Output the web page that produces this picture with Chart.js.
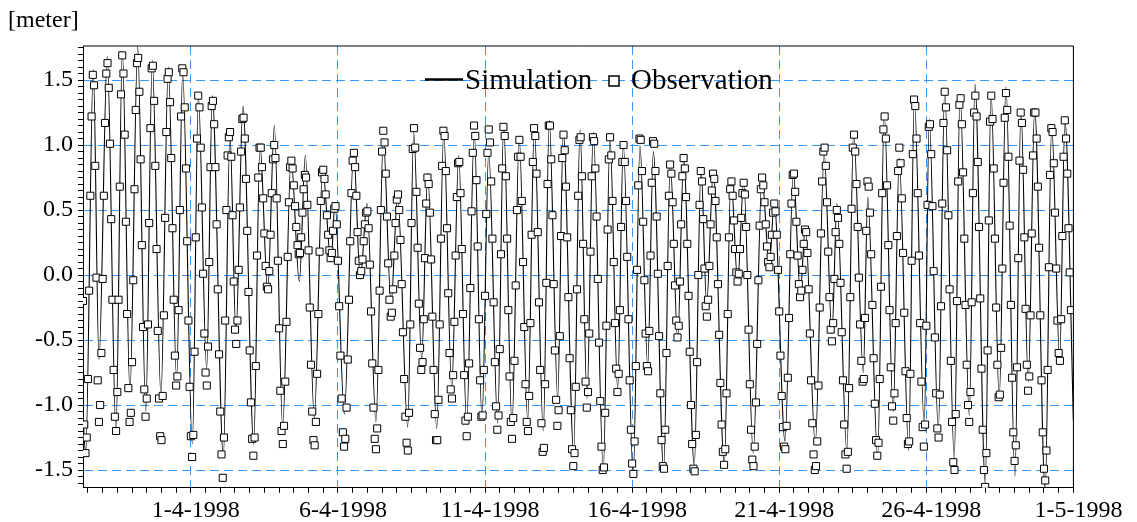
<!DOCTYPE html>
<html>
<head>
<meta charset="utf-8">
<script src="https://cdn.jsdelivr.net/npm/chart.js@4/dist/chart.umd.min.js"></script>
<style>
  html, body { margin: 0; padding: 0; background: #fff; }
  #wrap { width: 1137px; height: 522px; }
</style>
</head>
<body>
<div id="wrap"><canvas id="tideChart" width="1137" height="522"></canvas></div>
<script>
// time axis in hours, counted from 28-3-1998 08:00
const dateHours = [88, 208, 328, 448, 568, 688, 808];
const dateLabels = ['1-4-1998', '6-4-1998', '11-4-1998', '16-4-1998', '21-4-1998', '26-4-1998', '1-5-1998'];
const yMajor = [-1.5, -1.0, -0.5, 0, 0.5, 1.0, 1.5];

// simulated water level: turning points (high / low water)
const simHours = [0, 2.2, 8.4, 13.05, 19.8, 26.9, 32.1, 38.3, 44.6, 51.2, 56.5, 63.6, 69.6, 76.4, 81.3, 89.2, 94.1, 100.9, 105.5, 114.5, 119.9,
  124.8, 130.5, 139.3, 144.4, 150.7, 156.1, 162.9, 169.7, 176.5, 181.4, 188.7, 195.5, 202.3, 205.6, 213.2, 220.8, 226.2, 231.7, 239, 245,
  251.3, 256.7, 264.9, 269.8, 276.3, 281.2, 288.6, 294.3, 300.8, 306.5, 313, 319.2, 325.5, 331, 338.3, 343.2, 350, 355.9, 362.8, 368.2,
  375.5, 380.4, 387.3, 391.8, 400.3, 405.5, 411.2, 416.3, 424.5, 429.9, 436.2, 440.8, 448.9, 454.4, 460.7, 465.3, 473.7, 479.1, 485.2, 490,
  498.7, 504.2, 508.8, 514.2, 523.2, 528.6, 534.1, 539, 546.8, 553.9, 559.9, 564, 572.7, 579.5, 585.2, 589.3, 597.4, 604.7, 611, 615.1,
  623.2, 628.7, 636.6, 640.2, 648.3, 653.7, 661, 665.9, 673.6, 678.2, 686.3, 690.4, 697.8, 703, 710.8, 715.5, 723.1, 727.7, 736.1, 740.8,
  747.5, 753, 760.3, 765.2, 771.2, 776.4, 785, 790.3, 796.8, 801.1, 808];
const simLevel = [-1.1, -1.37, 1.58, -0.65, 1.68, -1.2, 1.72, -0.9, 1.76, -1.05, 1.65, -0.93, 1.6, -0.8, 1.55, -1.3, 1.38, -0.72, 1.38, -1.4, 1.08,
  -0.45, 1.3, -1.3, 1.0, -0.12, 1.15, -1.17, 0.9, -0.05, 0.92, -1.1, 0.82, 0.1, 0.55, -1.07, 0.95, -0.03, 0.55, -1.13, 1.05,
  -0.22, 0.62, -1.17, 1.1, -0.65, 0.78, -1.18, 1.1, -0.87, 0.92, -1.15, 1.1, -1.1, 0.95, -1.14, 1.15, -1.15, 1.05, -1.12, 1.14,
  -1.2, 1.19, -0.95, 1.1, -1.36, 1.12, -0.95, 1.1, -1.5, 1.06, -0.88, 1.0, -1.55, 1.0, -0.7, 0.95, -1.5, 0.87, -0.5, 0.9,
  -1.47, 0.82, -0.22, 0.8, -1.46, 0.75, -0.05, 0.72, -1.37, 0.75, 0.08, 0.56, -1.28, 0.8, -0.13, 0.37, -1.3, 0.93, -0.45, 0.55,
  -1.36, 1.1, -0.75, 0.6, -1.4, 1.23, -1.05, 0.9, -1.35, 1.36, -1.15, 1.2, -1.2, 1.42, -1.42, 1.39, -1.08, 1.47, -1.6, 1.4,
  -0.95, 1.45, -1.55, 1.27, -0.82, 1.28, -1.66, 1.15, -0.65, 1.19, -1.12];

// observed water level, hourly (hour 0 .. 806), in 5-day blocks
const obsBlock0 = [-0.2, -1.15, -1.37, -1.25, -0.8, -0.12, 0.61, 1.22, 1.54, 1.46,
  0.84, -0.02, -0.81, -1.13, -1.0, -0.6, -0.03, 0.61, 1.17, 1.55,
  1.63, 1.44, 1.01, 0.43, -0.19, -0.73, -1.09, -1.2, -0.9, -0.19,
  0.68, 1.39, 1.69, 1.55, 1.08, 0.41, -0.3, -0.87, -1.13, -1.06,
  -0.67, -0.04, 0.66, 1.27, 1.63, 1.67, 1.41, 0.89, 0.23, -0.4,
  -0.88, -1.09, -0.95, -0.38, 0.4, 1.13, 1.59, 1.61, 1.34, 0.84,
  0.2, -0.43, -0.95, -1.24, -1.27, -0.93, -0.31, 0.44, 1.1, 1.51,
  1.56, 1.33, 0.9, 0.36, -0.19, -0.62, -0.85, -0.78, -0.27, 0.5,
  1.22, 1.59, 1.56, 1.29, 0.82, 0.26, -0.35, -0.86];
const obsBlock1 = [-1.24, -1.4,
  -1.23, -0.59, 0.29, 1.05, 1.38, 1.29, 0.98, 0.52, 0.01, -0.45,
  -0.75, -0.85, -0.55, 0.1, 0.83, 1.3, 1.34, 1.16, 0.83, 0.39,
  -0.11, -0.61, -1.05, -1.38, -1.56, -1.25, -0.35, 0.5, 0.92, 1.06,
  1.1, 0.91, 0.46, -0.05, -0.42, -0.53, -0.35, 0.04, 0.52, 0.95,
  1.2, 1.21, 1.05, 0.74, 0.34, -0.13, -0.58, -0.98, -1.26, -1.39,
  -1.25, -0.7, 0.15, 0.75, 0.98, 0.98, 0.83, 0.59, 0.32, 0.07,
  -0.09, -0.11, 0.03, 0.31, 0.63, 0.89, 1.0, 0.9, 0.59, 0.11,
  -0.41, -0.89, -1.2, -1.3, -1.16, -0.82, -0.36, 0.14, 0.56, 0.83,
  0.88, 0.82, 0.69, 0.53, 0.37, 0.23, 0.16, 0.17, 0.29, 0.48,
  0.66, 0.77, 0.75, 0.54, 0.19, -0.25, -0.69, -1.05, -1.27, -1.31,
  -1.13, -0.76, -0.3, 0.18, 0.57, 0.79, 0.81, 0.74, 0.62, 0.46,
  0.31, 0.19, 0.13, 0.17, 0.34, 0.51, 0.53, 0.39];
const obsBlock2 = [0.11, -0.24,
  -0.62, -0.95, -1.21, -1.32, -1.26, -1.02, -0.65, -0.19, 0.26, 0.63,
  0.88, 0.94, 0.83, 0.61, 0.33, 0.11, 0.0, 0.03, 0.12, 0.26,
  0.39, 0.48, 0.49, 0.36, 0.08, -0.28, -0.68, -1.02, -1.26, -1.34,
  -1.18, -0.73, -0.12, 0.5, 0.95, 1.11, 1.02, 0.78, 0.45, 0.09,
  -0.19, -0.32, -0.29, -0.11, 0.15, 0.4, 0.58, 0.62, 0.5, 0.27,
  -0.07, -0.44, -0.8, -1.09, -1.29, -1.35, -1.06, -0.38, 0.4, 0.97,
  1.13, 0.98, 0.64, 0.21, -0.22, -0.56, -0.73, -0.67, -0.34, 0.13,
  0.55, 0.75, 0.7, 0.48, 0.12, -0.32, -0.73, -1.07, -1.27, -1.27,
  -0.96, -0.38, 0.28, 0.84, 1.11, 1.07, 0.8, 0.36, -0.14, -0.6,
  -0.88, -0.95, -0.77, -0.36, 0.15, 0.6, 0.86, 0.87, 0.63, 0.2,
  -0.3, -0.77, -1.12, -1.24, -1.09, -0.68, -0.1, 0.49, 0.94, 1.15,
  1.07, 0.73, 0.22, -0.34, -0.81, -1.09, -1.08, -0.73];
const obsBlock3 = [-0.16, 0.47,
  0.94, 1.12, 1.02, 0.72, 0.28, -0.21, -0.67, -1.01, -1.19, -1.08,
  -0.57, 0.16, 0.82, 1.14, 1.07, 0.76, 0.28, -0.27, -0.78, -1.13,
  -1.26, -1.1, -0.66, -0.08, 0.5, 0.91, 1.04, 0.91, 0.57, 0.1,
  -0.4, -0.84, -1.13, -1.2, -0.93, -0.37, 0.31, 0.87, 1.13, 1.07,
  0.78, 0.33, -0.21, -0.73, -1.14, -1.36, -1.33, -0.84, -0.06, 0.7,
  1.15, 1.15, 0.89, 0.46, -0.07, -0.58, -0.96, -1.16, -1.04, -0.47,
  0.3, 0.9, 1.08, 0.96, 0.68, 0.29, -0.17, -0.64, -1.04, -1.34,
  -1.47, -1.37, -0.86, -0.11, 0.61, 1.04, 1.06, 0.76, 0.24, -0.34,
  -0.82, -1.02, -0.9, -0.45, 0.18, 0.76, 1.06, 1.03, 0.82, 0.45,
  -0.03, -0.52, -0.97, -1.32, -1.5, -1.48, -1.06, -0.39, 0.35, 0.89,
  1.06, 0.92, 0.57, 0.1, -0.37, -0.72, -0.9, -0.76, -0.27, 0.37,
  0.87, 1.0, 0.87, 0.57, 0.14, -0.34, -0.81, -1.19];
const obsBlock4 = [-1.45, -1.53,
  -1.28, -0.7, 0.04, 0.69, 1.05, 1.04, 0.8, 0.41, -0.04, -0.45,
  -0.7, -0.74, -0.43, 0.15, 0.71, 1.03, 1.01, 0.8, 0.45, 0.01,
  -0.47, -0.91, -1.27, -1.47, -1.49, -1.19, -0.6, 0.07, 0.61, 0.85,
  0.78, 0.56, 0.24, -0.08, -0.35, -0.48, -0.39, -0.05, 0.39, 0.76,
  0.9, 0.82, 0.6, 0.24, -0.16, -0.59, -1.0, -1.3, -1.49, -1.51,
  -1.23, -0.67, 0.0, 0.54, 0.8, 0.72, 0.43, 0.05, -0.24, -0.32,
  -0.19, 0.07, 0.39, 0.65, 0.78, 0.74, 0.57, 0.29, -0.07, -0.46,
  -0.83, -1.15, -1.36, -1.46, -1.34, -0.91, -0.3, 0.29, 0.66, 0.72,
  0.61, 0.42, 0.2, 0.02, -0.05, 0.01, 0.2, 0.44, 0.63, 0.71,
  0.62, 0.37, 0.0, -0.42, -0.84, -1.19, -1.42, -1.47, -1.32, -0.98,
  -0.53, -0.04, 0.38, 0.66, 0.75, 0.69, 0.56, 0.39, 0.22, 0.1,
  0.06, 0.14, 0.31, 0.48, 0.55, 0.49, 0.31, 0.04];
const obsBlock5 = [-0.28, -0.62,
  -0.93, -1.17, -1.32, -1.34, -1.16, -0.79, -0.33, 0.16, 0.55, 0.77,
  0.78, 0.64, 0.41, 0.15, -0.07, -0.17, -0.12, 0.04, 0.24, 0.35,
  0.33, 0.17, -0.11, -0.45, -0.81, -1.14, -1.38, -1.5, -1.47, -1.28,
  -0.85, -0.25, 0.32, 0.72, 0.95, 0.98, 0.84, 0.56, 0.18, -0.17,
  -0.42, -0.51, -0.37, -0.03, 0.33, 0.5, 0.44, 0.24, -0.06, -0.44,
  -0.81, -1.15, -1.38, -1.49, -1.36, -0.87, -0.17, 0.51, 0.98, 1.08,
  0.95, 0.7, 0.37, -0.02, -0.38, -0.66, -0.82, -0.8, -0.33, 0.34,
  0.72, 0.68, 0.48, 0.16, -0.23, -0.64, -0.99, -1.27, -1.39, -1.29,
  -0.8, -0.09, 0.63, 1.12, 1.22, 1.05, 0.69, 0.23, -0.27, -0.71,
  -1.01, -1.12, -0.91, -0.37, 0.3, 0.8, 0.98, 0.86, 0.59, 0.17,
  -0.29, -0.74, -1.1, -1.3, -1.28, -0.76, 0.11, 0.93, 1.35, 1.3,
  1.05, 0.63, 0.15, -0.37, -0.82, -1.17, -1.32, -1.15];
const obsBlock6 = [-0.39, 0.54,
  1.14, 1.16, 0.93, 0.53, 0.03, -0.48, -0.91, -1.18, -1.25, -0.92,
  -0.24, 0.55, 1.17, 1.41, 1.29, 0.96, 0.46, -0.11, -0.66, -1.13,
  -1.44, -1.5, -1.07, -0.2, 0.72, 1.31, 1.36, 1.16, 0.79, 0.28,
  -0.23, -0.69, -1.0, -1.13, -0.9, -0.21, 0.63, 1.25, 1.38, 1.22,
  0.87, 0.37, -0.18, -0.72, -1.19, -1.5, -1.63, -1.37, -0.58, 0.42,
  1.18, 1.38, 1.2, 0.82, 0.28, -0.25, -0.69, -0.94, -0.92, -0.56,
  0.05, 0.71, 1.21, 1.4, 1.27, 0.91, 0.38, -0.23, -0.79, -1.21,
  -1.43, -1.31, -0.71, 0.13, 0.88, 1.25, 1.17, 0.81, 0.29, -0.26,
  -0.69, -0.89, -0.78, -0.31, 0.32, 0.92, 1.25, 1.25, 1.05, 0.68,
  0.21, -0.31, -0.81, -1.21, -1.49, -1.58, -1.35, -0.73, 0.06, 0.77,
  1.13, 1.1, 0.86, 0.48, 0.05, -0.35, -0.6, -0.66, -0.34, 0.3,
  0.91, 1.19, 1.05, 0.78, 0.36, 0.02, -0.27];

const obsLevel = [].concat(obsBlock0, obsBlock1, obsBlock2, obsBlock3, obsBlock4, obsBlock5, obsBlock6);

const serif = "'Liberation Serif', 'Times New Roman', serif";
const gridBlue = '#3399ff';

const simPoints = simHours.map((h, i) => ({ x: h, y: simLevel[i] }));
const obsPoints = obsLevel.map((v, h) => ({ x: h, y: v }));

const isMajorY = v => yMajor.some(m => Math.abs(m - v) < 1e-6);

// frame, unit label and legend
const decor = {
  id: 'decor',
  afterDraw(chart) {
    const { ctx, chartArea: a } = chart;
    ctx.save();
    ctx.strokeStyle = '#000';
    ctx.lineWidth = 1;
    ctx.beginPath();
    ctx.moveTo(a.left, a.top);
    ctx.lineTo(a.right, a.top);
    ctx.lineTo(a.right, a.bottom);
    ctx.stroke();

    ctx.fillStyle = '#000';
    ctx.textBaseline = 'alphabetic';
    ctx.font = '24px ' + serif;
    ctx.fillText('[meter]', 8, 27);

    ctx.font = '29px ' + serif;
    ctx.lineWidth = 2.5;
    ctx.beginPath();
    ctx.moveTo(425, 79.5);
    ctx.lineTo(463, 79.5);
    ctx.stroke();
    ctx.fillText('Simulation', 465, 88.5);
    ctx.lineWidth = 1.5;
    ctx.fillStyle = '#fff';
    ctx.fillRect(609, 76, 10, 10);
    ctx.strokeRect(609, 76, 10, 10);
    ctx.fillStyle = '#000';
    ctx.fillText('Observation', 631, 88.5);
    ctx.restore();
  }
};

new Chart(document.getElementById('tideChart'), {
  type: 'line',
  data: {
    datasets: [
      { label: 'Observation', data: obsPoints, showLine: false, order: 0,
        pointStyle: 'rect', pointRadius: 5, pointBorderWidth: 1,
        pointBorderColor: '#000', pointBackgroundColor: '#fff' },
      { label: 'Simulation', data: simPoints, order: 1,
        borderColor: '#000', borderWidth: 1.1, pointRadius: 0, fill: false,
        cubicInterpolationMode: 'monotone' }
    ]
  },
  options: {
    responsive: false,
    animation: false,
    events: [],
    layout: { padding: { left: 0, top: 46, right: 63.6, bottom: 0 } },
    plugins: { legend: { display: false }, tooltip: { enabled: false } },
    scales: {
      x: {
        type: 'linear', min: 0, max: 808,
        afterBuildTicks(scale) {
          const t = [];
          for (let h = 4; h <= 808; h += 12) t.push({ value: h });
          scale.ticks = t;
        },
        afterFit(scale) { scale.height = 34.3; },
        ticks: {
          autoSkip: false, maxRotation: 0, minRotation: 0, padding: 4, labelOffset: 5,
          color: '#000', font: { family: serif, size: 24 },
          callback: v => { const i = dateHours.indexOf(v); return i >= 0 ? dateLabels[i] : ''; }
        },
        grid: {
          color: c => (c.tick && dateHours.includes(c.tick.value)) ? gridBlue : 'rgba(0,0,0,0)',
          tickColor: '#000', tickLength: 5, tickBorderDash: [], lineWidth: 1
        },
        border: { color: '#000', width: 1, dash: [9, 5] }
      },
      y: {
        type: 'linear', min: -1.636, max: 1.762,
        afterBuildTicks(scale) {
          const t = [];
          for (let k = -32; k <= 35; k++) t.push({ value: k / 20 });
          scale.ticks = t;
        },
        afterFit(scale) { scale.width = 83; },
        ticks: {
          autoSkip: false, padding: 5, color: '#000', font: { family: serif, size: 24 },
          callback: v => isMajorY(v) ? v.toFixed(1) : ''
        },
        grid: {
          color: c => (c.tick && isMajorY(c.tick.value)) ? gridBlue : 'rgba(0,0,0,0)',
          tickColor: '#000', tickLength: 5, tickBorderDash: [], lineWidth: 1
        },
        border: { color: '#000', width: 1, dash: [9, 5] }
      }
    }
  },
  plugins: [decor]
});
</script>
</body>
</html>
